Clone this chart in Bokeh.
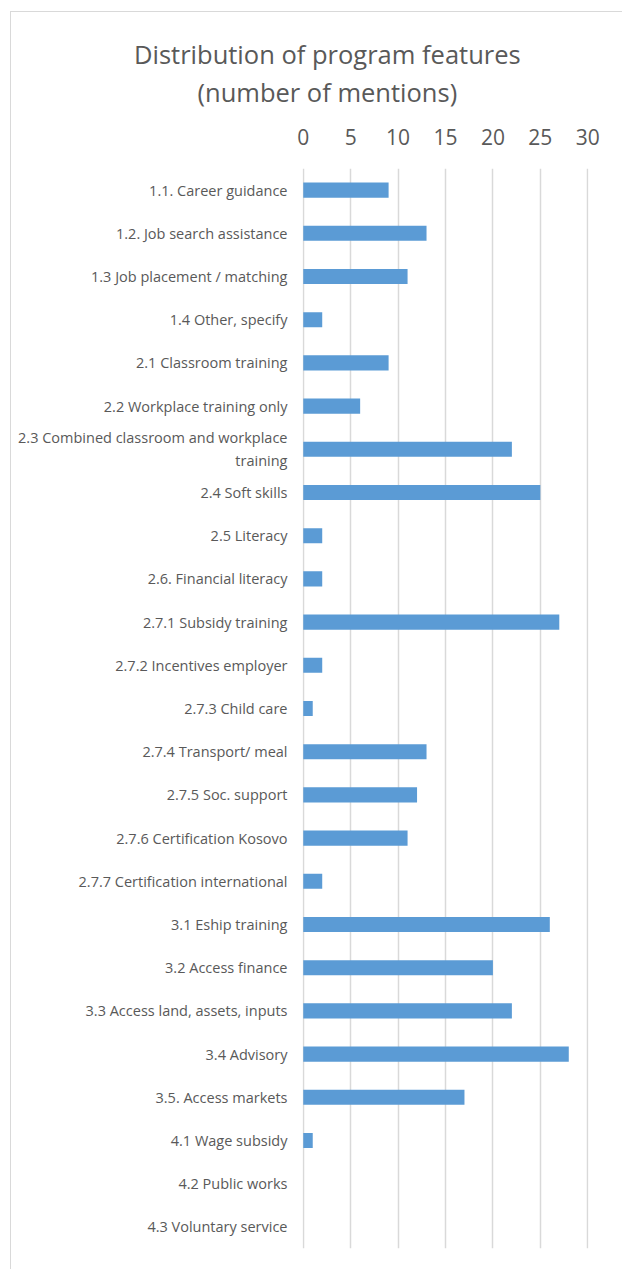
from bokeh.plotting import figure
from bokeh.models import (ColumnDataSource, FactorRange, Range1d, FixedTicker,
                          InlineStyleSheet, Title)
from bokeh.embed import file_html
from bokeh.resources import INLINE

categories = [
    "1.1. Career guidance",
    "1.2. Job search assistance",
    "1.3 Job placement / matching",
    "1.4 Other, specify",
    "2.1 Classroom training",
    "2.2 Workplace training only",
    "2.3 Combined classroom and workplace\ntraining",
    "2.4 Soft skills",
    "2.5 Literacy",
    "2.6. Financial literacy",
    "2.7.1 Subsidy training",
    "2.7.2 Incentives employer",
    "2.7.3 Child care",
    "2.7.4 Transport/ meal",
    "2.7.5 Soc. support",
    "2.7.6 Certification Kosovo",
    "2.7.7 Certification international",
    "3.1 Eship training",
    "3.2 Access finance",
    "3.3 Access land, assets, inputs",
    "3.4 Advisory",
    "3.5. Access markets",
    "4.1 Wage subsidy",
    "4.2 Public works",
    "4.3 Voluntary service",
]
mentions = [9, 13, 11, 2, 9, 6, 22, 25, 2, 2, 27, 2, 1, 13, 12, 11, 2,
            26, 20, 22, 28, 17, 1, 0, 0]
x_ticks = [0, 5, 10, 15, 20, 25, 30]
title_lines = ["Distribution of program features", "(number of mentions)"]

FONT = "Open Sans"
TXT = "#595959"
W, H = 622, 1269
LEFT, RIGHT, TOP, BOTTOM = 302, 34, 168, 21

source = ColumnDataSource(data=dict(cat=categories, val=mentions))

border_css = InlineStyleSheet(css="""
:host { position: relative; }
:host::after {
  content: ""; position: absolute; left: 10px; top: 11px; right: 0; bottom: 0;
  border-left: 1.5px solid #d9d9d9; border-top: 1.5px solid #d9d9d9;
  pointer-events: none;
}
""")

p = figure(width=W, height=H, output_backend="svg", toolbar_location=None,
           y_range=FactorRange(factors=categories[::-1], range_padding=0),
           x_range=Range1d(x_ticks[0] - 0.08, x_ticks[-1] + 0.08),
           x_axis_location="above",
           min_border_left=LEFT, min_border_right=RIGHT,
           min_border_top=TOP, min_border_bottom=BOTTOM,
           stylesheets=[border_css])
p.title = None
p.outline_line_color = None
p.background_fill_color = "white"
p.border_fill_color = "white"

p.hbar(y="cat", right="val", height=0.35, left=0, source=source,
       fill_color="#5b9bd5", line_color=None)

# axes
xa = p.xaxis[0]
xa.ticker = FixedTicker(ticks=x_ticks)
xa.axis_line_color = None
xa.major_tick_line_color = None
xa.minor_tick_line_color = None
xa.major_label_text_font = FONT
xa.major_label_text_font_size = "21px"
xa.major_label_text_color = TXT
xa.major_label_standoff = 18

ya = p.yaxis[0]
ya.axis_line_color = None
ya.major_tick_line_color = None
ya.minor_tick_line_color = None
ya.major_label_text_font = FONT
ya.major_label_text_font_size = "14.5px"
ya.major_label_text_color = TXT
ya.major_label_standoff = 9

p.xgrid.grid_line_color = "#d9d9d9"
p.xgrid.grid_line_width = 1.5
p.ygrid.grid_line_color = None

# two-line title, each line centred at x=327 on the canvas
TITLE_CX = 327
TITLE_W = [387, 260]
for line, w, so in zip(title_lines[::-1], TITLE_W[::-1], [34, -30]):
    p.add_layout(Title(text=line, align="left", offset=TITLE_CX - w / 2 - LEFT,
                       text_font=FONT, text_font_size="25.5px",
                       text_font_style="normal", text_color=TXT, standoff=so),
                 "above")

open("out.html", "w").write(file_html(p, INLINE))
